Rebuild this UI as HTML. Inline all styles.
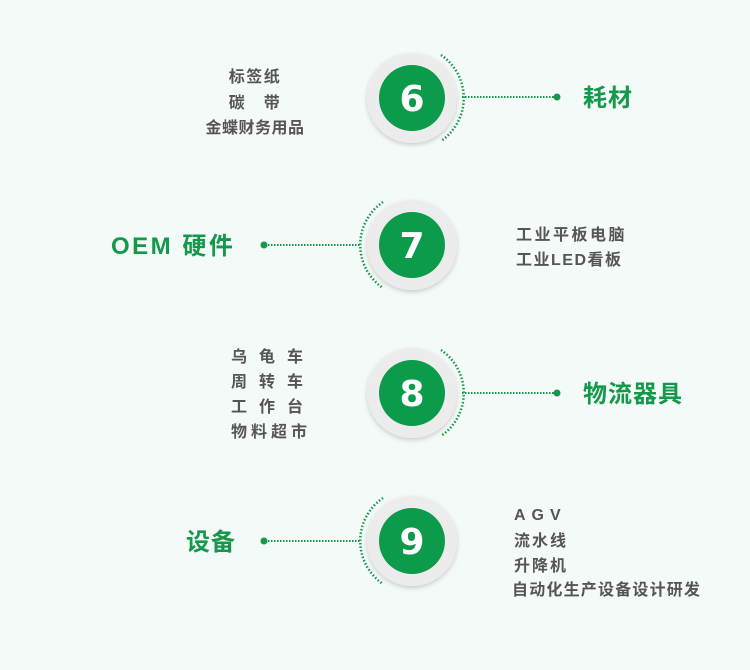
<!DOCTYPE html>
<html><head><meta charset="utf-8"><style>
html,body{margin:0;padding:0;background:#f4faf8;}
svg{display:block;}
.g{fill:#555;font-family:"Liberation Sans","Noto Sans CJK SC",sans-serif;font-weight:bold;font-size:16px;letter-spacing:1.5px;}
.t{fill:#14994a;font-family:"Liberation Sans","Noto Sans CJK SC",sans-serif;font-weight:bold;font-size:24px;letter-spacing:2px;}
.n{fill:#fff;font-family:"DejaVu Sans","Liberation Sans",sans-serif;font-weight:bold;font-size:36px;}
.dl{stroke:#14994a;stroke-width:2;stroke-dasharray:1.5 1.5;fill:none;}
.da{stroke:#14994a;stroke-width:2.5;stroke-dasharray:1.5 2;fill:none;}
</style></head><body>
<svg width="750" height="670" viewBox="0 0 750 670">
<defs>
<filter id="sh" x="-30%" y="-30%" width="160%" height="160%"><feDropShadow dx="0" dy="2" stdDeviation="2.5" flood-color="#000" flood-opacity="0.18"/></filter>
</defs>
<rect width="750" height="670" fill="#f4faf8"/>

<g transform="translate(412,98)">
<circle r="45" fill="#ececec" filter="url(#sh)"/>
<circle r="33" fill="#0b9b4a"/>
<path class="da" d="M29,-43 A52,52 0 0 1 29,43"/>
<text class="n" y="13" text-anchor="middle">6</text>
</g>
<line class="dl" x1="462" y1="97" x2="556" y2="97"/>
<circle cx="557" cy="97" r="3.5" fill="#14994a"/>
<text class="t" x="583" y="106" style="letter-spacing:1px">耗材</text>
<text class="g" x="255" y="82" text-anchor="middle">标签纸</text>
<text class="g" x="255" y="108" text-anchor="middle">碳　带</text>
<text class="g" x="255" y="133" text-anchor="middle" style="letter-spacing:0.5px">金蝶财务用品</text>

<g transform="translate(412,245)">
<circle r="45" fill="#ececec" filter="url(#sh)"/>
<circle r="33" fill="#0b9b4a"/>
<path class="da" d="M-29,-43 A52,52 0 0 0 -29,43"/>
<text class="n" y="13" text-anchor="middle">7</text>
</g>
<line class="dl" x1="265" y1="245" x2="361" y2="245"/>
<circle cx="264" cy="245" r="3.5" fill="#14994a"/>
<text class="t" x="111" y="254" style="letter-spacing:2.5px">OEM 硬件</text>
<text class="g" x="516" y="240" style="letter-spacing:2.5px">工业平板电脑</text>
<text class="g" x="516" y="265" style="letter-spacing:1.5px">工业LED看板</text>

<g transform="translate(412,393)">
<circle r="45" fill="#ececec" filter="url(#sh)"/>
<circle r="33" fill="#0b9b4a"/>
<path class="da" d="M29,-43 A52,52 0 0 1 29,43"/>
<text class="n" y="13" text-anchor="middle">8</text>
</g>
<line class="dl" x1="462" y1="393" x2="556" y2="393"/>
<circle cx="557" cy="393" r="3.5" fill="#14994a"/>
<text class="t" x="583" y="402" style="letter-spacing:1px">物流器具</text>
<text class="g" x="231" y="362" style="letter-spacing:-2px">乌　龟　车</text>
<text class="g" x="231" y="387" style="letter-spacing:-2px">周　转　车</text>
<text class="g" x="231" y="412" style="letter-spacing:-2px">工　作　台</text>
<text class="g" x="231" y="437" style="letter-spacing:4px">物料超市</text>

<g transform="translate(412,541)">
<circle r="45" fill="#ececec" filter="url(#sh)"/>
<circle r="33" fill="#0b9b4a"/>
<path class="da" d="M-29,-43 A52,52 0 0 0 -29,43"/>
<text class="n" y="13" text-anchor="middle">9</text>
</g>
<line class="dl" x1="265" y1="541" x2="361" y2="541"/>
<circle cx="264" cy="541" r="3.5" fill="#14994a"/>
<text class="t" x="186" y="550" style="letter-spacing:1px">设备</text>
<text class="g" x="514" y="520" style="letter-spacing:6px">AGV</text>
<text class="g" x="514" y="546" style="letter-spacing:2px">流水线</text>
<text class="g" x="514" y="571" style="letter-spacing:2px">升降机</text>
<text class="g" x="512" y="595" style="letter-spacing:1.2px">自动化生产设备设计研发</text>
</svg>
</body></html>
